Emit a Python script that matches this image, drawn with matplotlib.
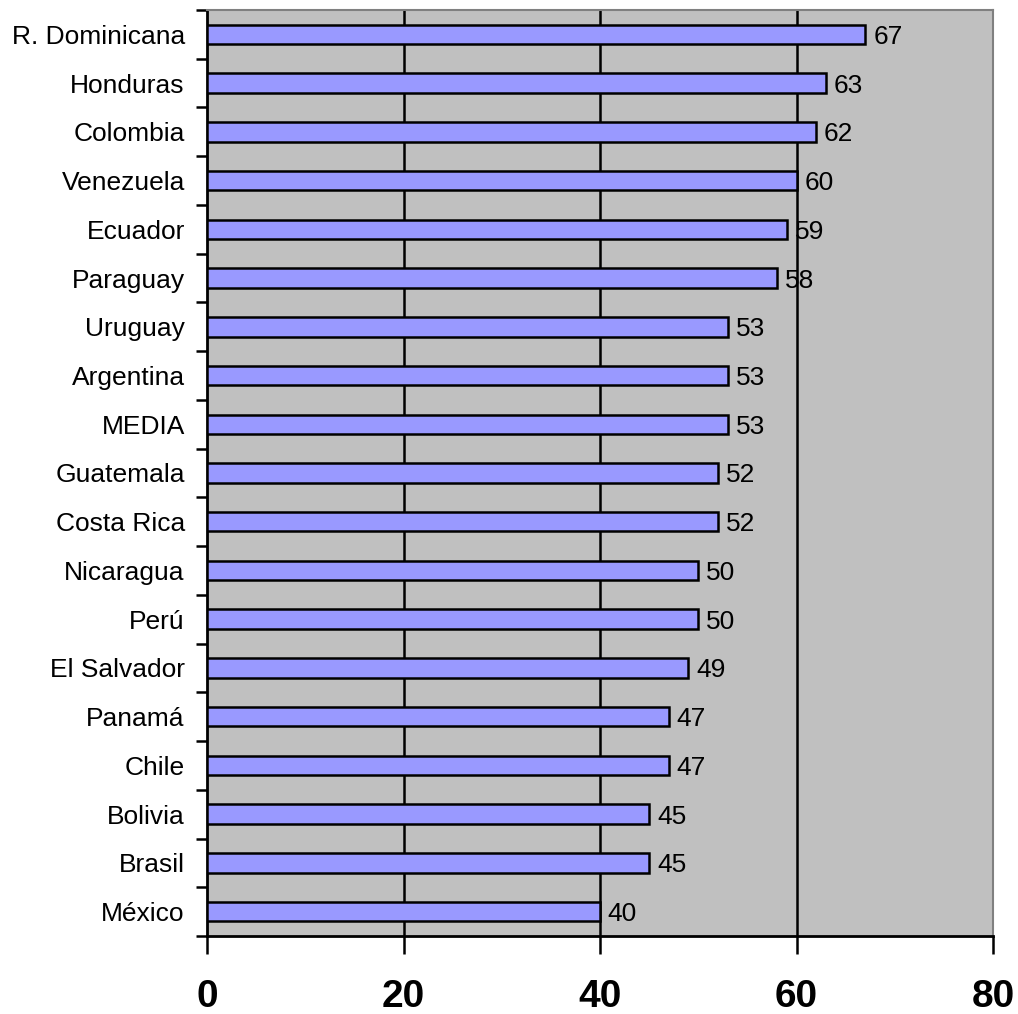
import matplotlib
matplotlib.use("Agg")
import matplotlib.pyplot as plt
from matplotlib.ticker import FixedLocator

plt.rcParams['font.family'] = ['Liberation Sans', 'DejaVu Sans']

countries = ["R. Dominicana", "Honduras", "Colombia", "Venezuela", "Ecuador",
             "Paraguay", "Uruguay", "Argentina", "MEDIA", "Guatemala",
             "Costa Rica", "Nicaragua", "Perú", "El Salvador", "Panamá",
             "Chile", "Bolivia", "Brasil", "México"]
values = [67, 63, 62, 60, 59, 58, 53, 53, 53, 52, 52, 50, 50, 49, 47, 47, 45, 45, 40]
x_ticks = [0, 20, 40, 60, 80]

fig = plt.figure(figsize=(10.18, 10.14), dpi=100)
ax = fig.add_axes([207 / 1018, 1 - 936 / 1014, (993 - 207) / 1018, (936 - 10) / 1014])
ax.set_facecolor('#C0C0C0')

n = len(countries)
pos = list(range(n))[::-1]
ax.barh(pos, values, height=0.4, color='#9999FF', edgecolor='black',
        linewidth=1.8, zorder=3)

for y, v in zip(pos, values):
    ax.text(v + 0.8, y, f"{v}", va='center_baseline', ha='left', fontsize=19, zorder=4)

ax.set_xlim(0, 80)
ax.set_ylim(-0.5, n - 0.5)

ax.set_xticks(x_ticks)
ax.set_xticklabels([str(t) for t in x_ticks], fontsize=28, fontweight='bold')
ax.tick_params(axis='x', length=13, width=1.8, pad=18, direction='out')

ax.set_yticks(pos)
ax.set_yticklabels(countries, fontsize=19, va='center_baseline')
ax.tick_params(axis='y', length=0, pad=16)
ax.yaxis.set_minor_locator(FixedLocator([i - 0.5 for i in range(n + 1)]))
ax.tick_params(axis='y', which='minor', length=8, width=1.8, direction='out')

for t in x_ticks[1:-1]:
    ax.axvline(t, color='black', linewidth=1.8, zorder=1)

for side in ('left', 'bottom'):
    ax.spines[side].set_color('black')
    ax.spines[side].set_linewidth(2.0)
for side in ('top', 'right'):
    ax.spines[side].set_color('#808080')
    ax.spines[side].set_linewidth(1.5)

fig.savefig("out.png", dpi=100, facecolor='white')
